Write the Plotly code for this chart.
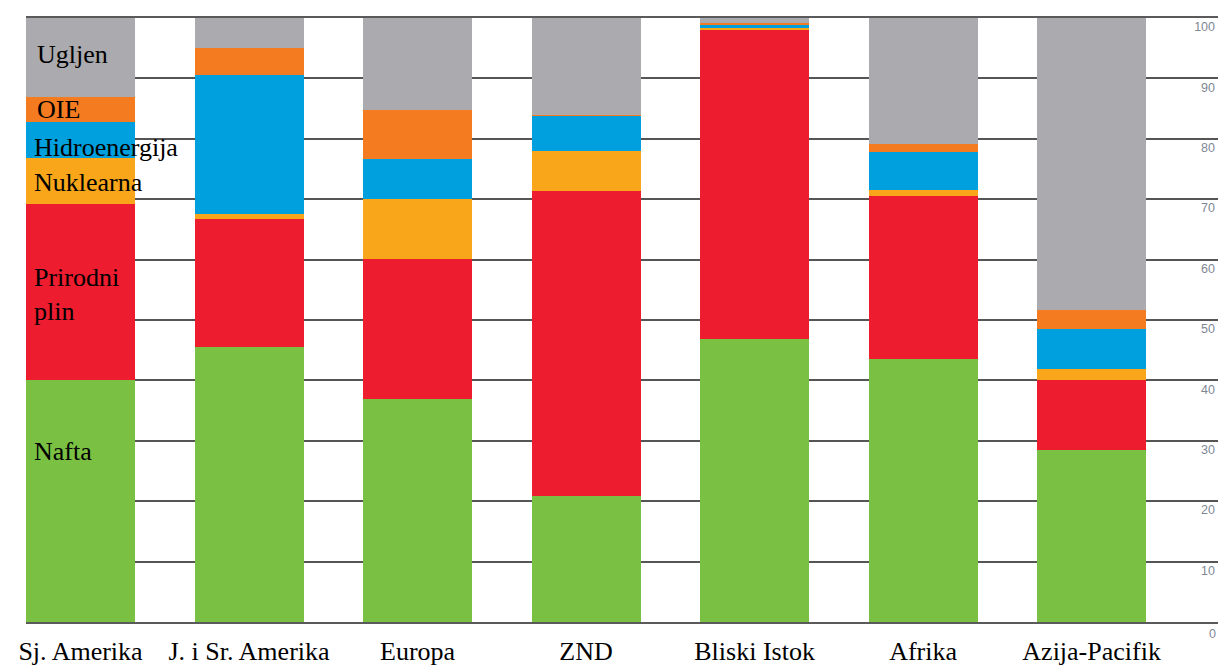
import plotly.graph_objects as go

categories = ["Sj. Amerika", "J. i Sr. Amerika", "Europa", "ZND", "Bliski Istok", "Afrika", "Azija-Pacifik"]
nafta = [40.0, 45.6, 37.0, 20.8, 46.8, 43.6, 28.5]
prirodni_plin = [29.2, 21.1, 23.1, 50.6, 51.3, 27.0, 11.5]
nuklearna = [7.7, 0.8, 9.9, 6.6, 0.3, 0.9, 1.9]
hidroenergija = [5.9, 23.0, 6.6, 5.8, 0.6, 6.3, 6.6]
oie = [4.1, 4.6, 8.1, 0.1, 0.2, 1.3, 3.2]
ugljen = [13.1, 4.9, 15.3, 16.1, 0.8, 20.9, 48.3]

series = [
    ("Nafta", nafta, "#7AC143"),
    ("Prirodni plin", prirodni_plin, "#ED1C2E"),
    ("Nuklearna", nuklearna, "#F9A61A"),
    ("Hidroenergija", hidroenergija, "#00A0DF"),
    ("OIE", oie, "#F47B20"),
    ("Ugljen", ugljen, "#ABAAAE"),
]

tick_vals = [0, 10, 20, 30, 40, 50, 60, 70, 80, 90, 100]
tick_text = ["0", "10", "20", "30", "40", "50", "60", "70", "80", "90", "100"]

tick_font = dict(family="Liberation Sans", size=12.5, color="#7E8794")

fig = go.Figure()
for name, vals, color in series:
    fig.add_trace(go.Bar(x=categories, y=vals, name=name, marker=dict(color=color, line=dict(width=0))))

# in-chart legend labels beside the first bar
labels = [("Ugljen", 93.9, 9), ("OIE", 84.8, 9), ("Hidroenergija", 78.5, 6),
          ("Nuklearna", 72.7, 6), ("Prirodni<br>plin", 54.2, 6), ("Nafta", 28.2, 6)]
for txt, yv, xs in labels:
    fig.add_annotation(x=0, xref="paper", y=yv, yref="y", text=txt, showarrow=False,
                       xanchor="left", yanchor="middle", xshift=xs, align="left",
                       font=dict(family="Liberation Serif", size=26, color="#000000"))

# the zero tick label sits below the baseline, outside the plot area
fig.add_annotation(x=1, xref="paper", y=tick_vals[0], yref="y", text=tick_text[0], showarrow=False,
                   xanchor="right", yanchor="top", yshift=-3, font=tick_font)

fig.update_layout(
    barmode="stack",
    bargap=0.353,
    width=1221, height=666,
    margin=dict(l=26, r=3, t=18, b=44, autoexpand=False),
    plot_bgcolor="#FFFFFF", paper_bgcolor="#FFFFFF",
    showlegend=False,
    xaxis=dict(range=[-0.3235, 6.75], showgrid=False, zeroline=False, automargin=False,
               showline=True, mirror=True, linecolor="#5A5A5A", linewidth=2,
               ticks="", ticklabelstandoff=5,
               tickfont=dict(family="Liberation Serif", size=26, color="#000000")),
    yaxis=dict(range=[0, 100], side="right", tickvals=tick_vals, ticktext=tick_text, automargin=False,
               ticklabelposition="inside bottom", showgrid=True, gridcolor="#555555", gridwidth=1.6,
               zeroline=False, showline=False, ticks="",
               tickfont=tick_font),
)

fig.write_html("out.html")
